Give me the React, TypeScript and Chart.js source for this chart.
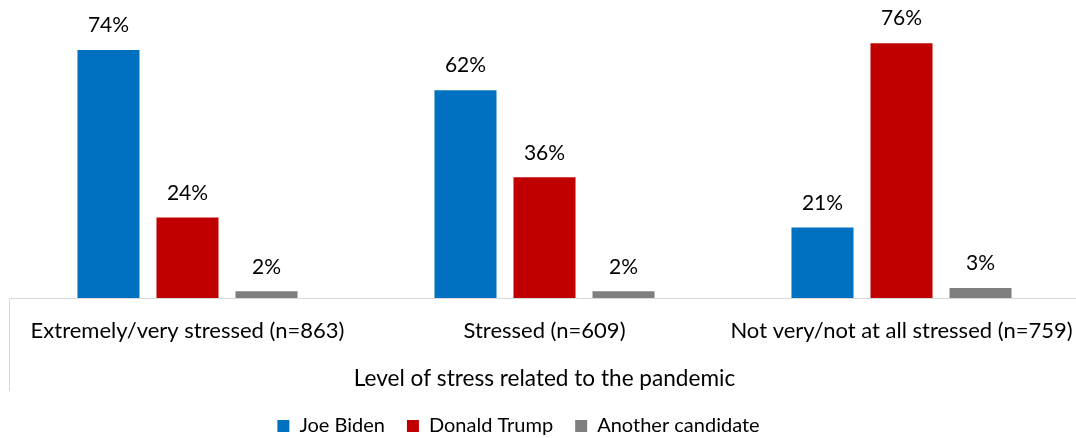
import React, { useEffect, useRef } from "react";
import { Chart, registerables } from "chart.js";

Chart.register(...registerables);

const categories = [
  "Extremely/very stressed (n=863)",
  "Stressed (n=609)",
  "Not very/not at all stressed (n=759)",
];
const seriesNames = ["Joe Biden", "Donald Trump", "Another candidate"];
const bidenValues = [74, 62, 21];
const trumpValues = [24, 36, 76];
const otherValues = [2, 2, 3];
const seriesColors = ["#0070C0", "#C00000", "#7F7F7F"];
const axisTitle = "Level of stress related to the pandemic";

const FONT = "Lato";

const extrasPlugin = {
  id: "extras",
  afterLayout(chart: any) {
    const lg = chart.legend;
    if (lg) {
      lg.left = lg.left - 52;
    }
  },
  afterDatasetsDraw(chart: any) {
    const ctx = chart.ctx;
    const area = chart.chartArea;
    ctx.save();
    ctx.strokeStyle = "#D9D9D9";
    ctx.lineWidth = 1;
    ctx.beginPath();
    ctx.moveTo(Math.round(area.left) + 0.5, area.bottom);
    ctx.lineTo(Math.round(area.left) + 0.5, area.bottom + 93);
    ctx.stroke();
    ctx.fillStyle = "#000000";
    ctx.font = `21px ${FONT}`;
    ctx.textAlign = "center";
    ctx.textBaseline = "bottom";
    chart.data.datasets.forEach((ds: any, i: number) => {
      const meta = chart.getDatasetMeta(i);
      meta.data.forEach((bar: any, j: number) => {
        ctx.fillText(ds.data[j] + "%", bar.x, bar.y - 14);
      });
    });
    ctx.restore();
  },
};

export default function App() {
  const ref = useRef<HTMLCanvasElement | null>(null);
  useEffect(() => {
    if (!ref.current) return;
    const chart = new Chart(ref.current, {
      type: "bar",
      data: {
        labels: categories,
        datasets: [
          { label: seriesNames[0], data: bidenValues, backgroundColor: seriesColors[0] },
          { label: seriesNames[1], data: trumpValues, backgroundColor: seriesColors[1] },
          { label: seriesNames[2], data: otherValues, backgroundColor: seriesColors[2] },
        ],
      },
      options: {
        animation: false,
        responsive: false,
        maintainAspectRatio: false,
        layout: { padding: { top: 3, left: 9, right: 0, bottom: -8 } },
        datasets: { bar: { categoryPercentage: 0.664, barPercentage: 0.785 } },
        scales: {
          x: {
            grid: { display: false, drawTicks: false },
            border: { display: true, color: "#D9D9D9", width: 1 },
            ticks: {
              color: "#000000",
              font: { family: FONT, size: 22 },
              padding: 20,
              maxRotation: 0,
              autoSkip: false,
            },
            title: {
              display: true,
              text: axisTitle,
              color: "#000000",
              font: { family: FONT, size: 22.6 },
              padding: { top: 0, bottom: 2 },
            },
            afterFit: (scale: any) => {
              scale.height = 96;
              scale.paddingLeft = 0;
              scale.paddingRight = 0;
            },
          },
          y: {
            display: false,
            min: 0,
            max: 88,
          },
        },
        plugins: {
          legend: {
            position: "bottom",
            labels: {
              color: "#000000",
              font: { family: FONT, size: 20 },
              boxWidth: 12,
              boxHeight: 12,
              padding: 22,
            },
          },
          tooltip: { enabled: false },
        },
      },
      plugins: [extrasPlugin],
    });
    return () => chart.destroy();
  }, []);
  return (
    <div style={{ position: "fixed", left: 0, top: 0, width: 1076, height: 438, overflow: "hidden", background: "#fff" }}>
      <canvas ref={ref} width={1080} height={438} style={{ display: "block", width: 1080, height: 438 }} />
    </div>
  );
}
